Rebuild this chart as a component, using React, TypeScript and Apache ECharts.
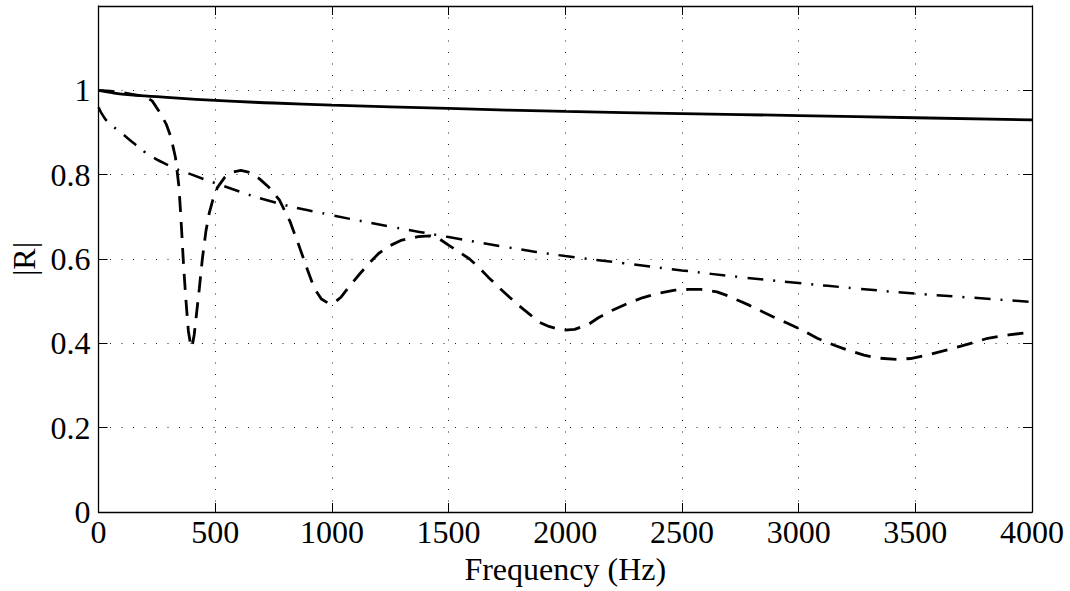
import React, { useEffect, useRef } from "react";
import * as echarts from "echarts";

const xTicks = [0, 500, 1000, 1500, 2000, 2500, 3000, 3500, 4000];
const yTicks = [0, 0.2, 0.4, 0.6, 0.8, 1];

const solidF = [0, 50, 100, 250, 500, 750, 1000, 1500, 2000, 2500, 3000, 3500, 4000];
const solidR = [1.0, 0.995, 0.991, 0.985, 0.976, 0.97, 0.965, 0.957, 0.95, 0.945, 0.94, 0.935, 0.93];

const dashF = [
  0, 50, 100, 150, 200, 230, 260, 290, 310, 330, 345, 355, 365, 375, 385, 395, 400, 410, 420, 432,
  445, 460, 475, 490, 510, 540, 575, 610, 650, 690, 730, 775, 820, 860, 895, 925, 955, 985, 1010,
  1040, 1075, 1120, 1160, 1200, 1250, 1300, 1370, 1420, 1460, 1500, 1550, 1590, 1630, 1670, 1720,
  1760, 1800, 1845, 1890, 1930, 1990, 2040, 2100, 2140, 2200, 2270, 2330, 2400, 2470, 2530, 2580,
  2650, 2700, 2740, 2790, 2830, 2890, 2950, 3020, 3080, 3150, 3210, 3280, 3340, 3420, 3480, 3550,
  3620, 3680, 3750, 3810, 3900, 4000,
];
const dashR = [
  1.0, 0.998, 0.995, 0.99, 0.985, 0.975, 0.95, 0.92, 0.89, 0.84, 0.77, 0.68, 0.58, 0.5, 0.43, 0.395,
  0.39, 0.42, 0.47, 0.53, 0.6, 0.665, 0.71, 0.74, 0.77, 0.793, 0.806, 0.81, 0.805, 0.79, 0.77, 0.74,
  0.69, 0.63, 0.575, 0.53, 0.505, 0.495, 0.496, 0.51, 0.535, 0.565, 0.59, 0.613, 0.632, 0.645,
  0.653, 0.655, 0.648, 0.633, 0.615, 0.6, 0.58, 0.557, 0.53, 0.51, 0.49, 0.47, 0.45, 0.44, 0.431,
  0.433, 0.445, 0.46, 0.478, 0.495, 0.508, 0.519, 0.526, 0.528, 0.528, 0.522, 0.512, 0.502, 0.49,
  0.479, 0.463, 0.448, 0.43, 0.412, 0.396, 0.384, 0.372, 0.365, 0.362, 0.364, 0.372, 0.382, 0.391,
  0.402, 0.412, 0.42, 0.427,
];

const dashDotF = [0, 25, 50, 100, 150, 200, 300, 400, 500, 750, 1000, 1250, 1500, 1750, 2000, 2250, 2500, 2750, 3000, 3250, 3500, 3750, 4000];
const dashDotR = [0.96, 0.935, 0.92, 0.898, 0.875, 0.853, 0.822, 0.8, 0.78, 0.735, 0.704, 0.677, 0.652, 0.628, 0.607, 0.59, 0.573, 0.557, 0.543, 0.53, 0.518, 0.508, 0.498];

const zip = (a: number[], b: number[]) => a.map((v, i) => [v, b[i]]);

export default function App() {
  const ref = useRef<HTMLDivElement>(null);
  useEffect(() => {
    if (!ref.current) return;
    const chart = echarts.init(ref.current, null, { renderer: "svg" });
    const font = "Liberation Serif";
    const gridLine = { show: true, lineStyle: { color: "#222", width: 1, type: [1, 10.5] } };
    const tick = { show: true, inside: true, length: 9, lineStyle: { color: "#000", width: 1 } };
    const axisLine = { show: true, onZero: false, lineStyle: { color: "#000", width: 1.3 } };
    chart.setOption({
      animation: false,
      backgroundColor: "#fff",
      grid: { left: 98.5, right: 38, top: 6, bottom: 79, containLabel: false, outerBoundsMode: "none" },
      xAxis: [
        {
          type: "value",
          min: 0,
          max: 4000,
          interval: 500,
          axisLine,
          axisTick: tick,
          splitLine: gridLine,
          axisLabel: {
            color: "#000",
            fontFamily: font,
            fontSize: 32,
            margin: 4,
            showMinLabel: true,
            showMaxLabel: true,
            hideOverlap: false,
            formatter: (v: number) => (xTicks.includes(v) ? String(v) : ""),
          },
          name: "Frequency (Hz)",
          nameLocation: "middle",
          nameGap: 30,
          nameTextStyle: { color: "#000", fontFamily: font, fontSize: 32 },
        },
        {
          type: "value",
          position: "top",
          min: 0,
          max: 4000,
          interval: 500,
          axisLine,
          axisTick: tick,
          splitLine: { show: false },
          axisLabel: { show: false },
        },
      ],
      yAxis: [
        {
          type: "value",
          min: 0,
          max: 1.2,
          interval: 0.2,
          axisLine,
          axisTick: tick,
          splitLine: gridLine,
          axisLabel: {
            color: "#000",
            fontFamily: font,
            fontSize: 32,
            margin: 8,
            formatter: (v: number) => {
              const t = yTicks.find((y) => Math.abs(y - v) < 1e-6);
              return t === undefined ? "" : String(t);
            },
          },
          name: "|R|",
          nameLocation: "middle",
          nameGap: 58,
          nameTextStyle: { color: "#000", fontFamily: font, fontSize: 32 },
        },
        {
          type: "value",
          position: "right",
          min: 0,
          max: 1.2,
          interval: 0.2,
          axisLine,
          axisTick: tick,
          splitLine: { show: false },
          axisLabel: { show: false },
        },
      ],
      series: [
        {
          type: "line",
          data: zip(solidF, solidR),
          showSymbol: false,
          smooth: true,
          lineStyle: { color: "#000", width: 2.8, type: "solid" },
        },
        {
          type: "line",
          data: zip(dashF, dashR),
          showSymbol: false,
          lineStyle: { color: "#000", width: 2.8, type: [16, 10] },
        },
        {
          type: "line",
          data: zip(dashDotF, dashDotR),
          showSymbol: false,
          smooth: true,
          lineStyle: { color: "#000", width: 2.5, type: [16, 10, 2, 10] },
        },
      ],
    });
    return () => chart.dispose();
  }, []);
  return (
    <div
      ref={ref}
      style={{ position: "fixed", left: 0, top: 0, width: 1070, height: 591, background: "#fff" }}
    />
  );
}
